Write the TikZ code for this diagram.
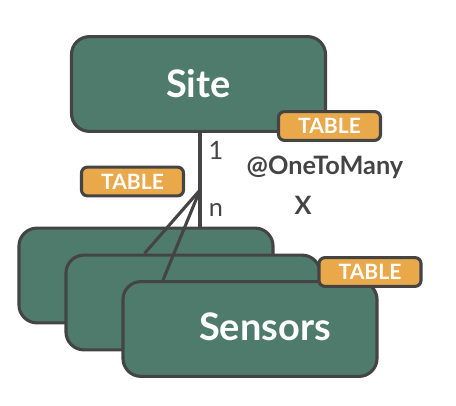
\documentclass[tikz,border=0pt]{standalone}
\usepackage{fontspec}
\setmainfont{Lato}
\usetikzlibrary{calc}
\definecolor{boxgreen}{HTML}{4F7B6D}
\definecolor{tableorange}{HTML}{E9A94A}
\definecolor{edgegray}{HTML}{444444}

\begin{document}
\begin{tikzpicture}[x=0.025cm, y=-0.025cm,
	entity/.style={draw=edgegray, line width=2.2pt, fill=boxgreen, rounded corners=0.45cm,
		minimum width=6.35cm, minimum height=2.37cm, text=white,
		font=\fontsize{27}{30}\selectfont\bfseries},
	tabletag/.style={draw=edgegray, line width=2.2pt, fill=tableorange, rounded corners=0.15cm,
		minimum width=2.55cm, minimum height=0.72cm, inner sep=0pt, text=white,
		font=\fontsize{15}{17}\selectfont\bfseries},
	link/.style={draw=edgegray, line width=2.2pt},
	card/.style={text=edgegray, font=\fontsize{18}{20}\selectfont},
	note/.style={text=edgegray, font=\fontsize{18}{20}\selectfont\bfseries}]
		%%%%% START %%%%%
		
		\useasboundingbox (0, 0) rectangle (456, 406);
		
		\node[entity] (site) at (198.5, 84) {Site};
		\node[tabletag] (sitetable) at (329.5, 126) {TABLE};
		
		\node[tabletag] (lefttable) at (132.5, 181.5) {TABLE};
		
		\node[entity] (sensorsa) at (146, 275.5) {};
		\node[entity] (sensorsb) at (193, 302.5) {};
		\node[entity] (sensorsc) at (250, 329) {};
		\node[text=white, font=\fontsize{27}{30}\selectfont\bfseries] (sensors) at (265, 327) {Sensors};
		\node[tabletag] (sensorstable) at (370, 272) {TABLE};
		
		\coordinate (fan) at (200, 190);
		\draw[link] (site.south -| fan) -- (fan |- sensorsa.north);
		\draw[link] (fan) -- ([xshift=2.0cm]sensorsb.north west);
		\draw[link] (fan) -- ([xshift=1.04cm]sensorsc.north west);
		
		\node[card] (one) at (216, 150) {1};
		\node[card] (many) at (216, 210) {n};
		\node[note] (annot) at (325, 167) {@OneToMany};
		\node[note] (cross) at (303, 205) {X};
		
		%%%%% END %%%%%
\end{tikzpicture}
\end{document}
